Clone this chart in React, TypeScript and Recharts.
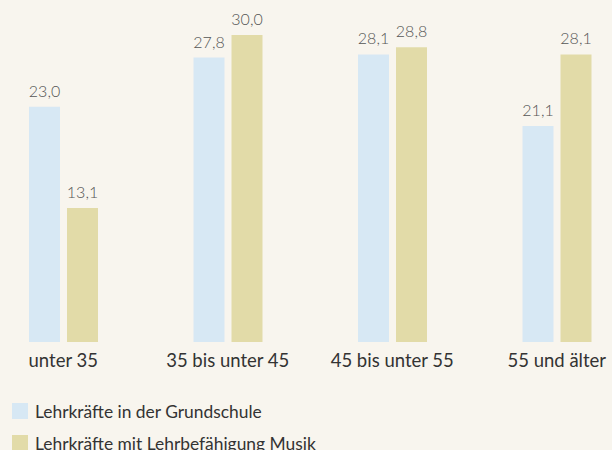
import { Bar, BarChart, LabelList, Legend, XAxis, YAxis } from 'recharts';

const categories = ['unter 35', '35 bis unter 45', '45 bis unter 55', '55 und älter'];
const grundschule = [23.0, 27.8, 28.1, 21.1];
const musik = [13.1, 30.0, 28.8, 28.1];

const seriesNames = ['Lehrkräfte in der Grundschule', 'Lehrkräfte mit Lehrbefähigung Musik'];
const colors = ['#d7e8f4', '#e2dba8'];

const data = categories.map((name, i) => ({
    name,
    grundschule: grundschule[i],
    musik: musik[i],
}));

const fmt = (v: any) => Number(v).toFixed(1).replace('.', ',');

function ValueLabel(props: any) {
    const { x, y, width, value } = props;
    return (
        <text
            x={x + width / 2}
            y={y - 10}
            textAnchor="middle"
            fill="#555"
            fontSize={16}
            fontWeight={300}
            fontFamily="Lato"
        >
            {fmt(value)}
        </text>
    );
}

function LegendBox({ payload }: any) {
    return (
        <div>
            {(payload || []).map((p: any) => (
                <div key={p.value} style={{ display: 'flex', alignItems: 'center', height: 32 }}>
                    <span style={{ width: 16, height: 16, background: p.color, marginRight: 7 }} />
                    <span style={{ fontSize: 17.4, color: '#333', fontFamily: 'Lato' }}>{p.value}</span>
                </div>
            ))}
        </div>
    );
}

export default function App() {
    return (
        <div style={{ position: 'absolute', left: 0, top: 0, width: 612, height: 450, background: '#f8f5ee', fontFamily: 'Lato', overflow: 'hidden' }}>
            <BarChart
                width={612}
                height={450}
                data={data}
                margin={{ top: 35, right: -27, bottom: 78, left: -19 }}
                barGap={7}
                barSize={31}
            >
                <XAxis
                    dataKey="name"
                    height={30}
                    axisLine={false}
                    tickLine={false}
                    tickSize={0}
                    tickMargin={12}
                    interval={0}
                    tick={{ fill: '#333', fontSize: 18.5, fontFamily: 'Lato' }}
                />
                <YAxis hide domain={[0, 30]} width={0} />
                <Legend
                    layout="vertical"
                    align="center"
                    verticalAlign="middle"
                    content={<LegendBox />}
                    wrapperStyle={{ position: 'absolute', left: 12, top: 395, width: 'auto', height: 'auto' }}
                />
                <Bar dataKey="grundschule" name={seriesNames[0]} fill={colors[0]} isAnimationActive={false}>
                    <LabelList dataKey="grundschule" content={<ValueLabel />} />
                </Bar>
                <Bar dataKey="musik" name={seriesNames[1]} fill={colors[1]} isAnimationActive={false}>
                    <LabelList dataKey="musik" content={<ValueLabel />} />
                </Bar>
            </BarChart>
        </div>
    );
}
